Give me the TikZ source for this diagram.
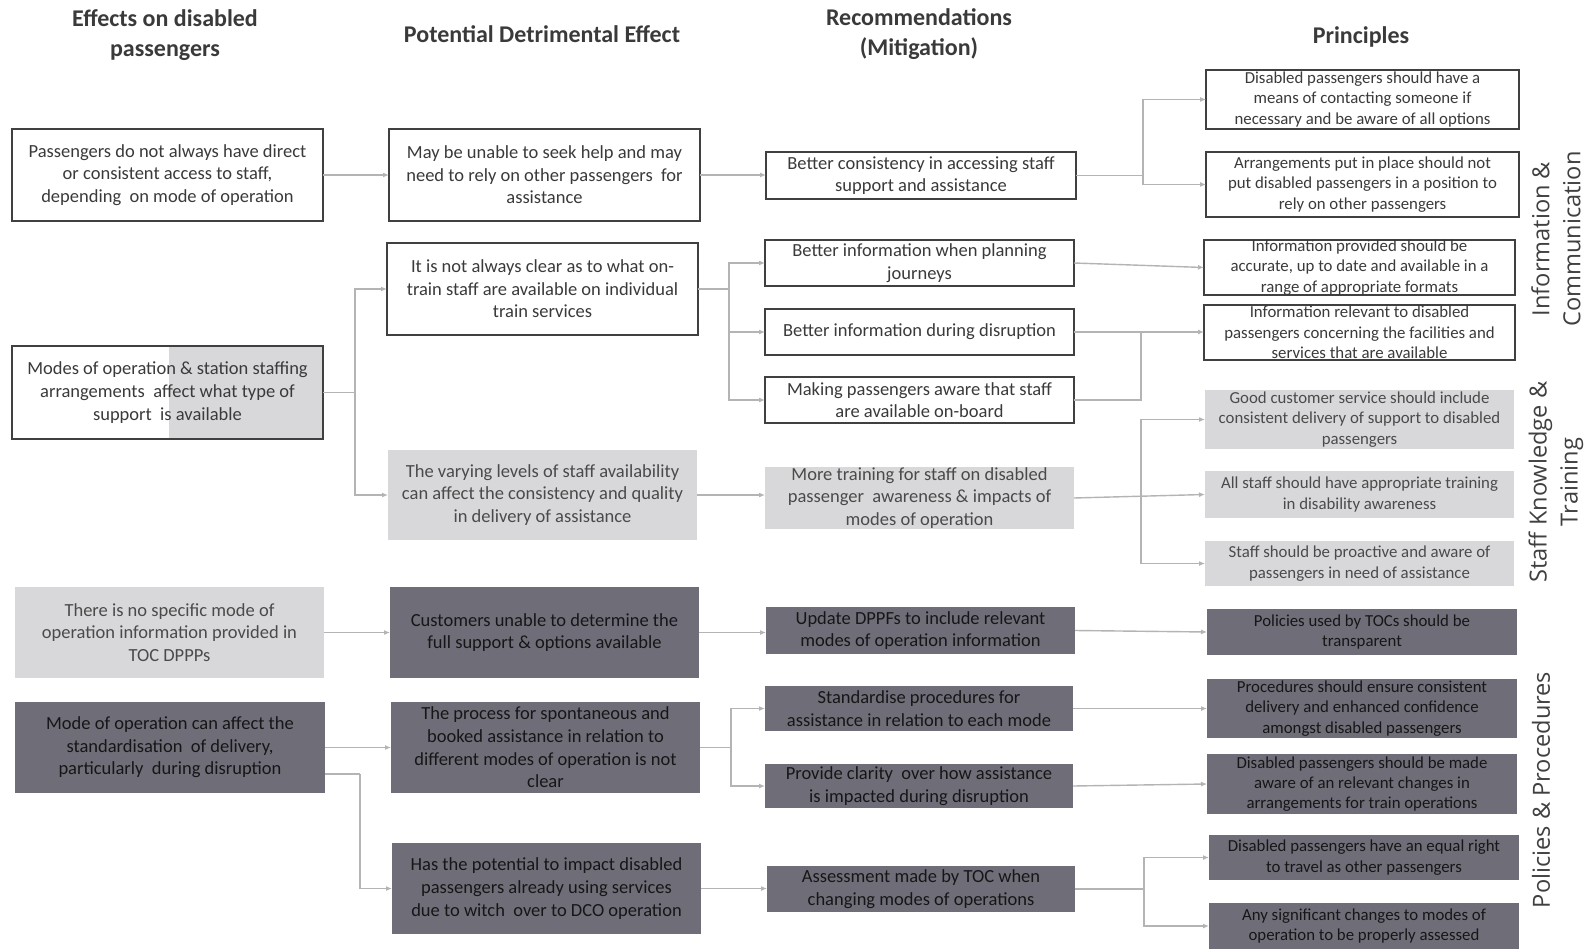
\documentclass[tikz,border=0pt]{standalone}
\usepackage{fontspec}
\setmainfont{Carlito}
\newfontfamily\sidefont{Open Sans}
\usetikzlibrary{arrows.meta}
\definecolor{bordc}{HTML}{404040}
\definecolor{txtc}{HTML}{3A3A3A}
\definecolor{lightf}{HTML}{D8D8DA}
\definecolor{lighttxt}{HTML}{4A4A4A}
\definecolor{darkf}{HTML}{6F6E78}
\definecolor{darktxt}{HTML}{161618}
\definecolor{connc}{HTML}{B4B4B4}
\begin{document}
\begin{tikzpicture}[x=1pt,y=-1pt,
  base/.style={align=center,inner sep=0pt,outer sep=0pt,font=\fontsize{18.5}{22.6}\selectfont},
  pfont/.style={font=\fontsize{16.8}{20.3}\selectfont},
  wbox/.style={base,draw=bordc,line width=2.4pt,fill=white,text=txtc},
  obox/.style={base,draw=bordc,line width=2.4pt,text=txtc},
  lbox/.style={base,fill=lightf,text=lighttxt},
  dbox/.style={base,fill=darkf,text=darktxt},
  hdr/.style={align=center,inner sep=0pt,font=\fontsize{24}{29.5}\selectfont\bfseries,text=txtc},
  side/.style={align=center,inner sep=0pt,rotate=90,font=\sidefont\fontsize{23.6}{31}\selectfont,text=bordc},
  conn/.style={draw=connc,line width=1.4pt},
  arr/.style={conn,-{Latex[length=6pt,width=5pt]}}
]
\useasboundingbox (0,0) rectangle (1592,949);
\fill[white] (0,0) rectangle (1592,949);

% headers
\node[hdr] (h1) at (165,35) {Effects on disabled\\passengers};
\node[hdr] (h2) at (542,34) {Potential Detrimental Effect};
\node[hdr] (h3) at (919,34) {Recommendations\\(Mitigation)};
\node[hdr] (h4) at (1361,37) {Principles};

% column 1
\node[wbox,minimum width=311pt,minimum height=92pt] (B1) at (167.5,175) {Passengers do not always have direct\\or consistent access to staff,\\depending\ \ on mode of operation};
\fill[white] (12,346) rectangle (168.5,439);
\fill[lightf] (168.5,346) rectangle (323,439);
\node[obox,minimum width=311pt,minimum height=93pt] (B2) at (167.5,392.5) {Modes of operation \& station staffing\\arrangements\ \ affect what type of\\support\ \ is available};
\node[lbox,minimum width=309pt,minimum height=91pt] (B3) at (169.5,632.5) {There is no specific mode of\\operation information provided in\\TOC DPPPs};
\node[dbox,minimum width=310pt,minimum height=91pt] (B4) at (170,747.5) {Mode of operation can affect the\\standardisation\ \ of delivery,\\particularly\ \ during disruption};

% column 2
\node[wbox,minimum width=311pt,minimum height=92pt] (C1) at (544.5,175) {May be unable to seek help and may\\need to rely on other passengers\ \ for\\assistance};
\node[wbox,minimum width=311pt,minimum height=92pt] (C2) at (542.5,289) {It is not always clear as to what on-\\train staff are available on individual\\train services};
\node[lbox,minimum width=309pt,minimum height=90pt] (C3) at (542.5,495) {The varying levels of staff availability\\can affect the consistency and quality\\in delivery of assistance};
\node[dbox,minimum width=309pt,minimum height=91pt] (C4) at (544.5,632.5) {Customers unable to determine the\\full support \& options available};
\node[dbox,minimum width=309pt,minimum height=91pt] (C5) at (545.5,747.5) {The process for spontaneous and\\booked assistance in relation to\\different modes of operation is not\\clear};
\node[dbox,minimum width=309pt,minimum height=91pt] (C6) at (546.5,888.5) {Has the potential to impact disabled\\passengers already using services\\due to witch\ \ over to DCO operation};

% column 3
\node[wbox,minimum width=310pt,minimum height=47pt] (R1) at (921,175.5) {Better consistency in accessing staff\\support and assistance};
\node[wbox,minimum width=309pt,minimum height=46pt] (R2) at (919.5,263) {Better information when planning\\journeys};
\node[wbox,minimum width=309pt,minimum height=46pt] (R3) at (919.5,332) {Better information during disruption};
\node[wbox,minimum width=309pt,minimum height=46pt] (R4) at (919.5,400) {Making passengers aware that staff\\are available on-board};
\node[lbox,minimum width=309pt,minimum height=58pt] (R5) at (919.5,498) {More training for staff on disabled\\passenger\ \ awareness \& impacts of\\modes of operation};
\node[dbox,minimum width=309pt,minimum height=47pt] (R6) at (920.5,630.5) {Update DPPFs to include relevant\\modes of operation information};
\node[dbox,minimum width=308pt,minimum height=45pt] (R7) at (919,708.5) {Standardise procedures for\\assistance in relation to each mode};
\node[dbox,minimum width=308pt,minimum height=44pt] (R8) at (919,786) {Provide clarity\ \ over how assistance\\is impacted during disruption};
\node[dbox,minimum width=308pt,minimum height=46pt] (R9) at (921,889) {Assessment made by TOC when\\changing modes of operations};

% column 4
\node[wbox,pfont,minimum width=313pt,minimum height=59pt] (P1) at (1362.5,99.5) {Disabled passengers should have a\\means of contacting someone if\\necessary and be aware of all options};
\node[wbox,pfont,minimum width=313pt,minimum height=65pt] (P2) at (1362.5,184.5) {Arrangements put in place should not\\put disabled passengers in a position to\\rely on other passengers};
\node[wbox,pfont,minimum width=311pt,minimum height=55pt] (P3) at (1359.5,267.5) {Information provided should be\\accurate, up to date and available in a\\range of appropriate formats};
\node[wbox,pfont,minimum width=311pt,minimum height=55pt] (P4) at (1359.5,332.5) {Information relevant to disabled\\passengers concerning the facilities and\\services that are available};
\node[lbox,pfont,minimum width=309pt,minimum height=59pt] (P5) at (1359.5,419.5) {Good customer service should include\\consistent delivery of support to disabled\\passengers};
\node[lbox,pfont,minimum width=309pt,minimum height=47pt] (P6) at (1359.5,494.5) {All staff should have appropriate training\\in disability awareness};
\node[lbox,pfont,minimum width=309pt,minimum height=45pt] (P7) at (1359.5,563.5) {Staff should be proactive and aware of\\passengers in need of assistance};
\node[dbox,pfont,minimum width=310pt,minimum height=46pt] (P8) at (1362,632) {Policies used by TOCs should be\\transparent};
\node[dbox,pfont,minimum width=310pt,minimum height=59pt] (P9) at (1362,708.5) {Procedures should ensure consistent\\delivery and enhanced confidence\\amongst disabled passengers};
\node[dbox,pfont,minimum width=310pt,minimum height=60pt] (P10) at (1362,784) {Disabled passengers should be made\\aware of an relevant changes in\\arrangements for train operations};
\node[dbox,pfont,minimum width=310pt,minimum height=45pt] (P11) at (1364,857.5) {Disabled passengers have an equal right\\to travel as other passengers};
\node[dbox,pfont,minimum width=310pt,minimum height=46pt] (P12) at (1364,926) {Any significant changes to modes of\\operation to be properly assessed};

% side labels
\node[side] (S1) at (1556,239) {Information \&\\Communication};
\node[side] (S2) at (1556,482) {Staff Knowledge \&\\Training};
\node[side] (S3) at (1541,790) {Policies \& Procedures};

% connectors
\draw[arr] (B1.east) -- (C1.west);
\draw[arr] (C1.east) -- (R1.west |- C1.east);
\coordinate (j1) at (1143,175.5);
\draw[conn] (R1.east) -- (j1);
\draw[arr] (j1) |- (P1.west);
\draw[arr] (j1) |- (P2.west);

\coordinate (j2) at (355,392.5);
\draw[conn] (B2.east) -- (j2);
\draw[arr] (j2) |- (C2.west);
\draw[arr] (j2) |- (C3.west);

\coordinate (j3) at (729,289);
\draw[conn] (C2.east) -- (j3);
\draw[arr] (j3) |- (R2.west);
\draw[arr] (j3) |- (R3.west);
\draw[arr] (j3) |- (R4.west);

\draw[arr] (R2.east) -- (P3.west);
\draw[arr] (R3.east) -- (P4.west |- R3.east);
\coordinate (j4) at (1141,332);
\draw[conn] (R4.east) -| (j4);

\draw[arr] (C3.east) -- (R5.west |- C3.east);
\coordinate (j5) at (1141,497);
\draw[arr] (R5.east) -- (P6.west);
\draw[arr] (j5) |- (P5.west);
\draw[arr] (j5) |- (P7.west);

\draw[arr] (B3.east) -- (C4.west);
\draw[arr] (C4.east) -- (R6.west |- C4.east);
\draw[arr] (R6.east) -- (P8.west);

\draw[arr] (B4.east) -- (C5.west);
\coordinate (j6) at (360,774);
\draw[conn] ([yshift=-26.5pt]B4.east) -- (j6);
\draw[arr] (j6) |- (C6.west);

\coordinate (j7) at (731,747.5);
\draw[conn] (C5.east) -- (j7);
\draw[arr] (j7) |- (R7.west);
\draw[arr] (j7) |- (R8.west);
\draw[arr] (R7.east) -- (P9.west |- R7.east);
\draw[arr] (R8.east) -- (P10.west);

\draw[arr] (C6.east) -- (R9.west |- C6.east);
\coordinate (j8) at (1144,889);
\draw[conn] (R9.east) -- (j8);
\draw[arr] (j8) |- (P11.west);
\draw[arr] (j8) |- (P12.west);
\end{tikzpicture}
\end{document}
